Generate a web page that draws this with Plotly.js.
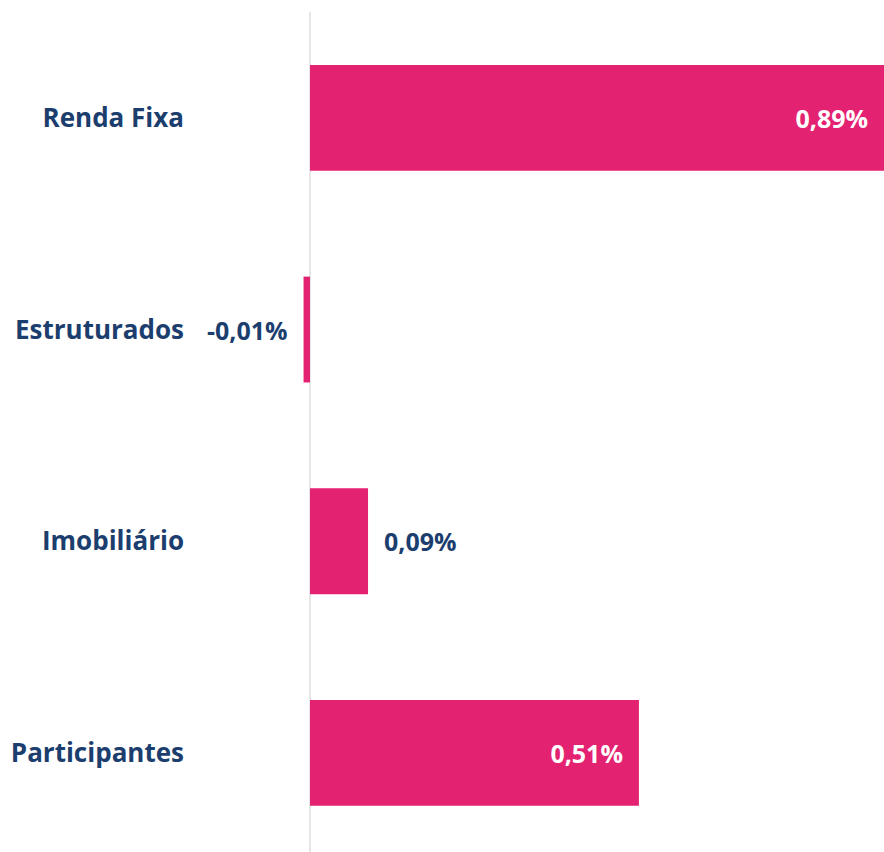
<!DOCTYPE html>
<html>
<head>
<meta charset="utf-8">
<script src="https://cdn.plot.ly/plotly-3.0.1.min.js"></script>
<style>html,body{margin:0;padding:0;background:#fff;}#chart{width:884px;height:852px;}</style>
</head>
<body>
<div id="chart"></div>
<script>
const categories = ["Renda Fixa", "Estruturados", "Imobiliário", "Participantes"];
const values = [0.89, -0.01, 0.09, 0.51];
const valueLabels = ["0,89%", "-0,01%", "0,09%", "0,51%"];
const labelPositions = ["inside", "outside", "outside", "inside"];

const NB = "\u00a0\u00a0";
const texts = valueLabels.map((t, i) => {
  if (labelPositions[i] === "inside") return t + NB;
  return values[i] < 0 ? t + NB : NB + t;
});

const FONT = "'Open Sans', Lato, sans-serif";

const trace = {
  type: "bar",
  orientation: "h",
  y: categories,
  x: values,
  width: 0.5,
  marker: {color: "#E42272"},
  text: texts,
  textposition: labelPositions,
  insidetextanchor: "end",
  insidetextfont: {color: "#ffffff", size: 25, family: FONT, weight: 700},
  outsidetextfont: {color: "#1C3E6E", size: 25, family: FONT, weight: 700},
  cliponaxis: false,
  hoverinfo: "none"
};

const layout = {
  width: 884,
  height: 852,
  margin: {l: 300, r: 0, t: 12, b: 0},
  paper_bgcolor: "#ffffff",
  plot_bgcolor: "#ffffff",
  showlegend: false,
  xaxis: {
    range: [-0.0155, 0.89],
    showgrid: false,
    showticklabels: false,
    ticks: "",
    zeroline: true,
    zerolinecolor: "#E6E6E6",
    zerolinewidth: 2,
    fixedrange: true
  },
  yaxis: {
    range: [3.468, -0.5],
    showgrid: false,
    ticks: "",
    zeroline: false,
    ticklabelstandoff: 115,
    tickfont: {color: "#1C3E6E", size: 26, family: FONT, weight: 700},
    fixedrange: true
  }
};

Plotly.newPlot("chart", [trace], layout, {displayModeBar: false, staticPlot: true});
</script>
</body>
</html>
